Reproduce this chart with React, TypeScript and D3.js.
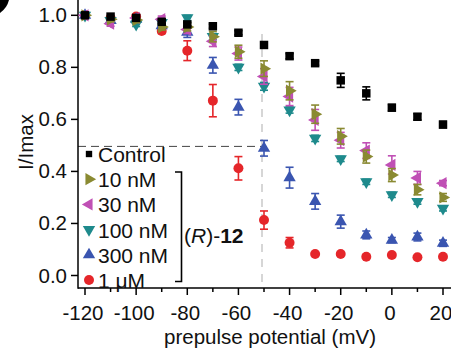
import React from "react";
import * as d3 from "d3";

const xs = [-120, -110, -100, -90, -80, -70, -60, -50, -40, -30, -20, -10, 0, 10, 20];

const control = [1.0, 0.995, 0.99, 0.975, 0.965, 0.958, 0.933, 0.886, 0.843, 0.816, 0.75, 0.7, 0.645, 0.61, 0.58];
const controlErr = [0, 0.005, 0.005, 0.008, 0.008, 0.008, 0.008, 0.01, 0.01, 0.008, 0.027, 0.025, 0.012, 0.012, 0.012];
const n10 = [1.0, 0.985, 0.982, 0.955, 0.955, 0.918, 0.86, 0.795, 0.71, 0.62, 0.535, 0.457, 0.386, 0.33, 0.3];
const n10Err = [0, 0.01, 0.01, 0.012, 0.015, 0.02, 0.025, 0.03, 0.035, 0.035, 0.03, 0.025, 0.025, 0.02, 0.015];
const n30 = [1.0, 0.968, 0.99, 0.985, 0.945, 0.9, 0.853, 0.765, 0.688, 0.598, 0.52, 0.48, 0.425, 0.375, 0.355];
const n30Err = [0, 0.01, 0.01, 0.012, 0.015, 0.02, 0.025, 0.03, 0.035, 0.04, 0.03, 0.03, 0.035, 0.025, 0.01];
const n100 = [1.0, 0.98, 0.965, 0.972, 0.99, 0.918, 0.8, 0.727, 0.636, 0.527, 0.448, 0.36, 0.31, 0.284, 0.258];
const n100Err = [0, 0.008, 0.008, 0.008, 0.01, 0.012, 0.012, 0.015, 0.012, 0.012, 0.01, 0.01, 0.01, 0.01, 0.01];
const n300 = [1.0, 0.98, 0.985, 0.96, 0.935, 0.808, 0.647, 0.489, 0.376, 0.285, 0.207, 0.156, 0.136, 0.148, 0.124];
const n300Err = [0, 0.005, 0.005, 0.01, 0.02, 0.03, 0.03, 0.03, 0.04, 0.03, 0.025, 0.015, 0.01, 0.015, 0.012];
const u1 = [1.0, 0.99, 0.995, 0.94, 0.864, 0.672, 0.412, 0.213, 0.126, 0.083, 0.083, 0.072, 0.079, 0.07, 0.072];
const u1Err = [0, 0.005, 0.005, 0.01, 0.038, 0.062, 0.045, 0.035, 0.02, 0.005, 0.005, 0.005, 0.005, 0.005, 0.005];

const seriesNames = ["Control", "10 nM", "30 nM", "100 nM", "300 nM", "1 \u03bcM"];
const yTicks = [0, 0.2, 0.4, 0.6, 0.8, 1.0];
const xTicks = [-120, -100, -80, -60, -40, -20, 0, 20];
const xMinor = [-110, -90, -70, -50, -30, -10, 10];

const FONT = "'Liberation Sans', Arial, sans-serif";

type S = { name: string; vals: number[]; err: number[]; color: string; shape: string };

const series: S[] = [
  { name: seriesNames[5], vals: u1, err: u1Err, color: "#e5262a", shape: "circle" },
  { name: seriesNames[4], vals: n300, err: n300Err, color: "#3a55b0", shape: "up" },
  { name: seriesNames[3], vals: n100, err: n100Err, color: "#1e8a8c", shape: "down" },
  { name: seriesNames[2], vals: n30, err: n30Err, color: "#c050b5", shape: "left" },
  { name: seriesNames[1], vals: n10, err: n10Err, color: "#8a8a32", shape: "right" },
  { name: seriesNames[0], vals: control, err: controlErr, color: "#000000", shape: "square" },
];

function symbolPath(shape: string): { d: string; rot: number } {
  if (shape === "square") return { d: d3.symbol(d3.symbolSquare, 72)()!, rot: 0 };
  if (shape === "circle") return { d: d3.symbol(d3.symbolCircle, 78)()!, rot: 0 };
  const d = d3.symbol(d3.symbolTriangle, 66)()!;
  const rot = shape === "up" ? 0 : shape === "down" ? 180 : shape === "right" ? 90 : -90;
  return { d, rot };
}

export default function App() {
  const W = 451, H = 352;
  const x = d3.scaleLinear().domain([-120, 20]).range([85, 443]);
  const y = d3.scaleLinear().domain([0, 1]).range([275.5, 15.3]);
  const axX = 78, axY = 288;

  const legendOrder = [5, 4, 3, 2, 1, 0];
  const legendY0 = 154, legendDy = 25.2;

  return (
    <svg width={W} height={H} style={{ position: "absolute", left: 0, top: 0 }} fontFamily={FONT}>
      <rect width={W} height={H} fill="#fff" />
      <path d="M0,0 L9,0 Q7,8 0,13 Z" fill="#000" />
      {/* reference dashed lines */}
      <line x1={axX} x2={x(-50) - 2} y1={y(0.5) + 1} y2={y(0.5) + 1} stroke="#444" strokeWidth={1} strokeDasharray="8,5" />
      <line x1={x(-50) - 2} x2={x(-50) - 2} y1={34} y2={axY} stroke="#bbb" strokeWidth={1.2} strokeDasharray="8,7" />
      {/* axes */}
      <line x1={axX} x2={axX} y1={0} y2={axY + 0.75} stroke="#000" strokeWidth={1.5} />
      <line x1={axX} x2={W} y1={axY} y2={axY} stroke="#000" strokeWidth={1.5} />
      {yTicks.map((t) => (
        <g key={"y" + t}>
          <line x1={axX - 7} x2={axX} y1={y(t)} y2={y(t)} stroke="#000" strokeWidth={1.5} />
          <text x={axX - 11} y={y(t) + 7} textAnchor="end" fontSize={20.5} fill="#111">
            {t.toFixed(1)}
          </text>
        </g>
      ))}
      {xTicks.map((t) => (
        <g key={"x" + t}>
          <line x1={x(t)} x2={x(t)} y1={axY} y2={axY + 7} stroke="#000" strokeWidth={1.5} />
          <text x={x(t) - 2} y={axY + 32} textAnchor="middle" fontSize={20.5} fill="#111">
            {t}
          </text>
        </g>
      ))}
      {xMinor.map((t) => (
        <line key={"m" + t} x1={x(t)} x2={x(t)} y1={axY} y2={axY + 4} stroke="#000" strokeWidth={1.5} />
      ))}
      <text x={270} y={344} textAnchor="middle" fontSize={20.5} fill="#111">
        prepulse potential (mV)
      </text>
      <text transform="translate(33,142) rotate(-90)" textAnchor="middle" fontSize={20.5} fill="#111">
        I/Imax
      </text>
      {/* data */}
      {series.map((s) => {
        const sp = symbolPath(s.shape);
        return (
          <g key={s.name}>
            {s.vals.map((v, i) => {
              const cx = x(xs[i]);
              const e = s.err[i];
              return (
                <g key={i}>
                  {e > 0.006 && (
                    <g stroke={s.color} strokeWidth={1.6}>
                      <line x1={cx} x2={cx} y1={y(v + e)} y2={y(v - e)} />
                      <line x1={cx - 4} x2={cx + 4} y1={y(v + e)} y2={y(v + e)} />
                      <line x1={cx - 4} x2={cx + 4} y1={y(v - e)} y2={y(v - e)} />
                    </g>
                  )}
                  <path d={sp.d} transform={`translate(${cx},${y(v)}) rotate(${sp.rot})`} fill={s.color} />
                </g>
              );
            })}
          </g>
        );
      })}
      {/* legend */}
      {legendOrder.map((si, k) => {
        const s = series[si];
        const sp = symbolPath(s.shape);
        const ly = legendY0 + k * legendDy;
        const small = s.shape === "square" ? 0.75 : 1.0;
        return (
          <g key={"l" + s.name}>
            <path d={sp.d} transform={`translate(89,${ly}) rotate(${sp.rot}) scale(${small})`} fill={s.color} />
            <text x={98} y={ly + 8} fontSize={21} fill="#111">
              {s.name}
            </text>
          </g>
        );
      })}
      <path d="M175,172 H181.5 V281.5 H175" fill="none" stroke="#000" strokeWidth={1.6} />
      <text x={184} y={243} fontSize={21} fill="#111">
        (<tspan fontStyle="italic">R</tspan>)-<tspan fontWeight="bold">12</tspan>
      </text>
    </svg>
  );
}
